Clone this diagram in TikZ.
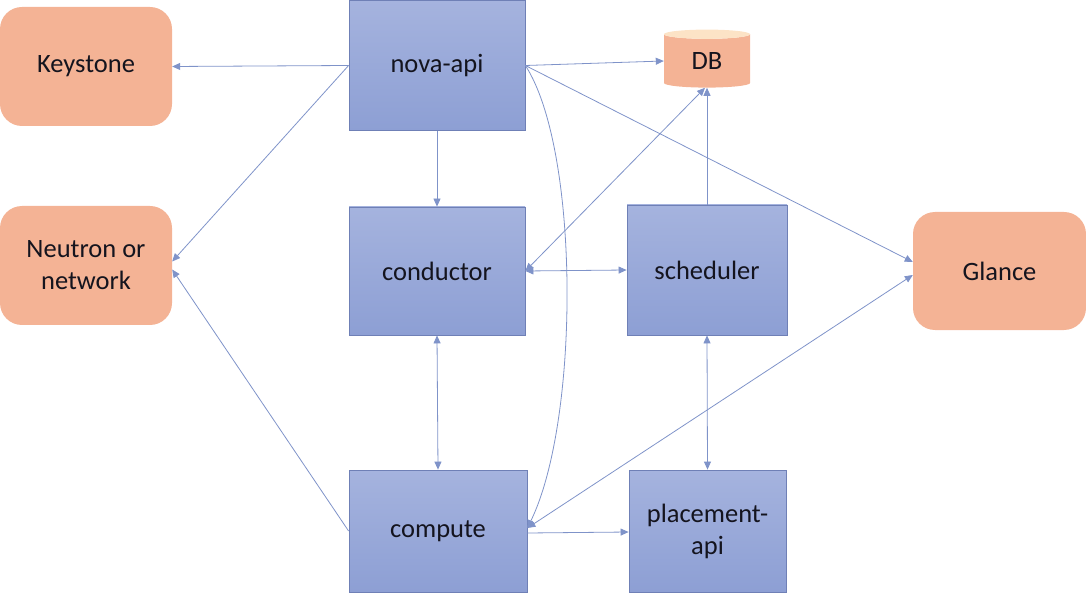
\documentclass[tikz,border=0pt]{standalone}
\usepackage{fontspec}
\setmainfont{Carlito}
\usetikzlibrary{shapes.geometric,arrows.meta}
\definecolor{boxtop}{HTML}{A5B3DE}
\definecolor{boxbot}{HTML}{8D9FD4}
\definecolor{boxline}{HTML}{6F80B6}
\definecolor{orangefill}{HTML}{F4B395}
\definecolor{dbtop}{HTML}{FCE3C6}
\definecolor{edge}{HTML}{7F93C9}
\definecolor{txt}{HTML}{14141E}
\tikzset{
  txtstyle/.style={text=txt, font=\fontsize{26.5}{32}\selectfont, align=center, inner sep=0pt},
  bluebox/.style={rectangle, draw=boxline, line width=0.8pt, top color=boxtop, bottom color=boxbot, txtstyle},
  orangebox/.style={rectangle, rounded corners=22pt, fill=orangefill, txtstyle},
  conn/.style={draw=edge, line width=0.8pt, -{Triangle[length=8pt,width=7pt]}},
  bconn/.style={draw=edge, line width=0.8pt, {Triangle[length=8pt,width=7pt]}-{Triangle[length=8pt,width=7pt]}}
}
\begin{document}
\begin{tikzpicture}[x=1pt,y=-1pt]
\useasboundingbox (0,0) rectangle (1086,593);
\node[bluebox, minimum width=176pt, minimum height=130pt] (nova) at (437,65.5) {\raisebox{-2pt}{nova-api}};
\node[bluebox, minimum width=176pt, minimum height=128pt] (cond) at (437,271) {\raisebox{-2pt}{conductor}};
\node[bluebox, minimum width=160pt, minimum height=130pt] (sched) at (707,270) {\raisebox{-2pt}{scheduler}};
\node[bluebox, minimum width=178pt, minimum height=122pt] (comp) at (438,531) {\raisebox{-2pt}{compute}};
\node[bluebox, minimum width=157pt, minimum height=122pt] (place) at (707.5,531) {placement-\\api};
\node[orangebox, minimum width=172pt, minimum height=119pt] (key) at (86,66.5) {\raisebox{-2pt}{Keystone}};
\node[orangebox, minimum width=172pt, minimum height=119pt] (neut) at (86,265.5) {Neutron or\\network};
\node[orangebox, minimum width=173pt, minimum height=118pt] (glance) at (999.5,271) {\raisebox{-2pt}{Glance}};
\node[cylinder, shape border rotate=90, aspect=0.3, minimum width=86pt, minimum height=58pt,
  cylinder uses custom fill, cylinder body fill=orangefill, cylinder end fill=dbtop,
  txtstyle] (db) at (707,61) {\raisebox{-3pt}{DB}};

\draw[conn] (nova.west) -- (key.east);
\draw[conn] (nova.west) -- ([yshift=4pt]neut.east);
\draw[conn] (comp.west) -- ([yshift=-4pt]neut.east);
\draw[conn] (nova.east) -- (db.west);
\draw[conn] (nova.east) -- ([yshift=9pt]glance.west);
\draw[bconn] ([yshift=3pt]comp.east) -- ([yshift=-4pt]glance.west);
\draw[conn] (nova.east) .. controls (580,150) and (580,420) .. ([yshift=3pt]comp.east);
\draw[conn] (nova.south) -- (cond.north);
\draw[bconn] (cond.east) -- (sched.west);
\draw[bconn] (cond.east) -- ([xshift=-2pt]db.south);
\draw[conn] (sched.north) -- (db.south);
\draw[bconn] (cond.south) -- (comp.north);
\draw[bconn] (sched.south) -- (place.north);
\draw[conn] ([yshift=-2pt]comp.east) -- ([yshift=-1pt]place.west);
\end{tikzpicture}
\end{document}
